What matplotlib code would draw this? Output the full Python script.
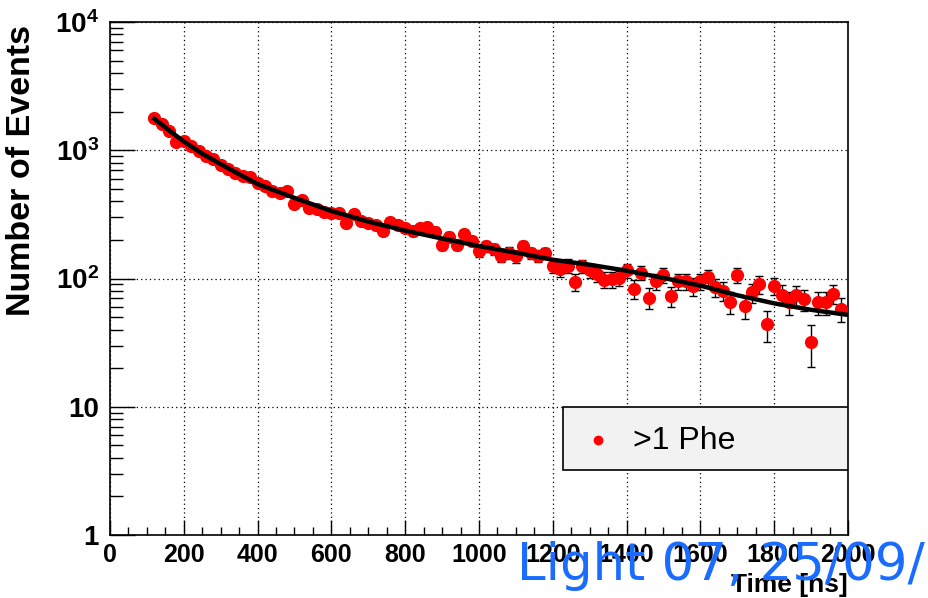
import numpy as np
import matplotlib
matplotlib.use("Agg")
import matplotlib.pyplot as plt
from matplotlib.patches import Rectangle

# ---- data ----
time_ns = list(range(120, 2000, 20))
counts = [1790, 1600, 1420, 1160, 1190, 1070, 980, 900, 850, 770,
          720, 660, 630, 615, 560, 527, 480, 465, 480, 380,
          408, 356, 347, 330, 326, 322, 272, 316, 282, 272,
          259, 236, 276, 262, 249, 234, 249, 253, 232, 184,
          212, 183, 221, 195, 163, 179, 169, 151, 159, 149,
          179, 157, 151, 157, 126, 118, 126, 94, 125, 116,
          108, 98, 99, 101, 116, 83, 111, 71, 95, 106,
          73, 95, 95, 87, 95, 102, 86, 80, 66, 107,
          61, 78, 90, 44, 88, 75, 65, 74, 69, 32,
          65, 65, 76, 58]
background = 100  # effective background entering the statistical errors
errors = [np.sqrt(c + background) for c in counts]

fit_x = [120, 160, 200, 250, 300, 350, 400, 500, 600, 700, 800, 900,
         1000, 1100, 1200, 1300, 1400, 1500, 1600, 1700, 1800, 1900, 2000]
fit_y = [1760, 1430, 1170, 940, 780, 650, 545, 425, 336, 278, 236, 205,
         179, 159, 140, 128, 115, 101, 88, 74, 64, 57, 52]

x_ticks = [0, 200, 400, 600, 800, 1000, 1200, 1400, 1600, 1800, 2000]
y_ticks = [1, 10, 100, 1000, 10000]
y_tick_labels = ["1", "10", r"$10^{2}$", r"$10^{3}$", r"$10^{4}$"]
legend_label = ">1 Phe"
x_title = "Time [ns]"
y_title = "Number of Events"
stamp = "Light 07, 25/09/07"

# ---- style ----
plt.rcParams["font.family"] = ["Liberation Sans", "DejaVu Sans"]
plt.rcParams["font.weight"] = "bold"
plt.rcParams["mathtext.fontset"] = "custom"
plt.rcParams["mathtext.rm"] = "Liberation Sans:bold"
plt.rcParams["mathtext.it"] = "Liberation Sans:bold"
plt.rcParams["mathtext.bf"] = "Liberation Sans:bold"

W, H = 929, 598
fig = plt.figure(figsize=(W / 100, H / 100), dpi=100)
L, R, T, B = 110, 848, 22, 535
ax = fig.add_axes([L / W, 1 - B / H, (R - L) / W, (B - T) / H])

ax.set_yscale("log")
ax.set_xlim(0, 2000)
ax.set_ylim(1, 10000)

ax.errorbar(time_ns, counts, yerr=errors, fmt="o", color="red",
            markersize=8.5, ecolor="black", elinewidth=1.0, capsize=3,
            capthick=1.0, zorder=3)
ax.plot(fit_x, fit_y, color="black", lw=3.2, zorder=4)

ax.grid(True, which="major", linestyle=(0, (1, 2.5)), color="black", lw=0.9)
ax.set_axisbelow(True)

ax.set_xticks(x_ticks)
ax.set_xticks(np.arange(0, 2001, 50), minor=True)
ax.set_yticks(y_ticks)
ax.set_yticklabels(y_tick_labels)
ax.tick_params(axis="both", which="both", direction="in", top=False, right=False)
ax.tick_params(axis="y", which="major", length=18, width=1, labelsize=20, pad=8)
ax.tick_params(axis="y", which="minor", length=9, width=1)
ax.tick_params(axis="x", which="major", length=11, width=1, labelsize=18, pad=6)
ax.tick_params(axis="x", which="minor", length=6, width=1)
for sp in ax.spines.values():
    sp.set_color("black")
    sp.set_linewidth(1.2)

# titles
fig.text(22 / W, 1 - 25 / H, y_title, rotation=90, ha="center", va="top",
         fontsize=24.5, fontweight="bold")
fig.text(R / W, 1 - 585 / H, x_title, ha="right", va="center",
         fontsize=19, fontweight="bold")

# legend box
x0 = (563 - L) / (R - L)
y0 = (B - 470) / (B - T)
y1 = (B - 407) / (B - T)
ax.add_patch(Rectangle((x0, y0), 1 - x0, y1 - y0, transform=ax.transAxes,
                       facecolor="#f2f2f2", edgecolor="black", lw=1.2, zorder=6))
ax.plot([(598 - L) / (R - L)], [(B - 440) / (B - T)], "o", color="red",
        markersize=6, transform=ax.transAxes, zorder=7)
ax.text((633 - L) / (R - L), (B - 441) / (B - T), legend_label,
        transform=ax.transAxes, ha="left", va="center", fontsize=23,
        fontweight="normal", zorder=7)

# handwritten-style stamp
fig.text(517 / W, 1 - 580 / H, stamp, ha="left", va="baseline",
         fontsize=37, color="#1a6cff", fontweight="normal",
         family=["DejaVu Sans Condensed", "DejaVu Sans"])

fig.savefig("out.png", dpi=100, facecolor="white")
